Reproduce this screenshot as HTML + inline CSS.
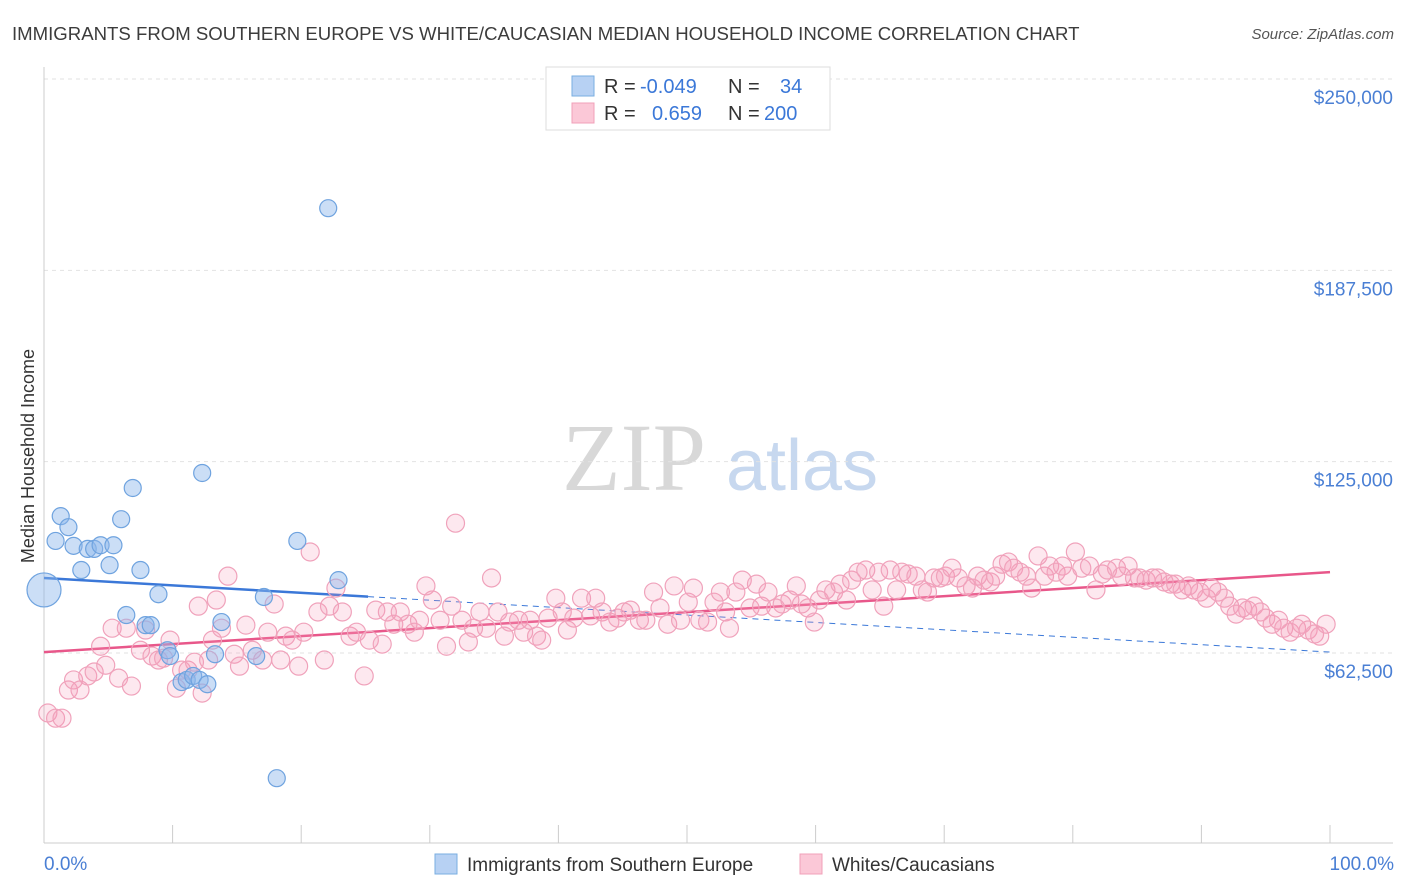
<!DOCTYPE html>
<html><head><meta charset="utf-8">
<style>
body{margin:0;background:#fff;font-family:"Liberation Sans",sans-serif;}
svg{display:block}
</style></head>
<body>
<svg id="chart" width="1406" height="892" xmlns="http://www.w3.org/2000/svg" font-family="Liberation Sans, sans-serif">
<text x="12" y="40" font-size="18.6" fill="#3c3c3c">IMMIGRANTS FROM SOUTHERN EUROPE VS WHITE/CAUCASIAN MEDIAN HOUSEHOLD INCOME CORRELATION CHART</text>
<text x="1394" y="39" font-size="15" fill="#555" font-style="italic" text-anchor="end">Source: ZipAtlas.com</text>
<g>
<text x="634" y="490" font-size="96" fill="#d8d8d8" font-family="Liberation Serif, serif" text-anchor="middle">ZIP</text>
<text x="802" y="490" font-size="72" fill="#c7d8ef" text-anchor="middle">atlas</text>
</g>
<g id="grid"></g>
<g id="axes"></g>
<g id="trends"></g>
<g id="points"></g>
<text transform="translate(34,456) rotate(-90)" font-size="18" fill="#333" text-anchor="middle">Median Household Income</text>
<text x="44" y="870" font-size="19" fill="#4a7fd4">0.0%</text>
<text x="1394" y="870" font-size="19" fill="#4a7fd4" text-anchor="end">100.0%</text>
<g>
<rect x="546" y="67" width="284" height="63" fill="#fff" stroke="#ddd"/>
<rect x="572" y="76" width="22" height="20" fill="#b7d1f3" stroke="#7aaee0"/>
<rect x="572" y="103" width="22" height="20" fill="#fbc8d7" stroke="#f0a0b8"/>
<text x="604" y="93" font-size="20" fill="#333">R = <tspan x="640" fill="#3b78d8">-0.049</tspan><tspan x="728">N = </tspan><tspan x="780" fill="#3b78d8">34</tspan></text>
<text x="604" y="120" font-size="20" fill="#333">R = <tspan x="652" fill="#3b78d8">0.659</tspan><tspan x="728">N = </tspan><tspan x="764" fill="#3b78d8">200</tspan></text>
</g>
<g>
<rect x="435" y="854" width="22" height="20" fill="#b7d1f3" stroke="#7aaee0"/>
<text x="467" y="871" font-size="19" fill="#333">Immigrants from Southern Europe</text>
<rect x="800" y="854" width="22" height="20" fill="#fbc8d7" stroke="#f0a0b8"/>
<text x="832" y="871" font-size="19" fill="#333">Whites/Caucasians</text>
</g>
</svg>
<script>
const yTicks=[62500,125000,187500,250000];
const yTickLabels=["$62,500","$125,000","$187,500","$250,000"];
const xTicks=[0,10,20,30,40,50,60,70,80,90,100];
const blueX=[0,0.9,1.3,1.9,2.3,2.9,3.4,3.9,4.4,5.1,5.4,6.0,6.9,7.5,6.4,7.9,8.3,8.9,9.6,9.8,10.7,11.1,11.6,12.1,12.7,12.3,13.3,13.8,17.1,19.7,22.1,22.9,18.1,16.5];
const blueY=[83.1,99.1,107.2,103.6,97.5,89.6,96.5,96.5,97.7,91.2,97.7,106.2,116.4,89.6,74.9,71.6,71.6,81.7,63.4,61.5,53.0,53.7,55.0,53.7,52.3,121.3,62.1,72.6,80.8,99.1,207.8,86.3,21.6,61.5];
const pinkX=[0.3,0.9,1.4,1.9,2.3,2.8,3.4,3.9,4.4,4.8,5.3,5.8,6.4,6.8,7.5,7.9,8.4,8.9,9.3,9.8,10.3,10.7,11.2,11.7,12.0,12.3,12.8,13.1,13.4,13.8,14.3,14.8,15.2,15.7,16.2,17.0,17.4,17.9,18.4,18.8,19.3,19.8,20.2,20.7,21.3,21.8,22.2,22.7,23.2,23.8,24.3,24.9,25.3,25.8,26.3,26.7,27.2,27.7,28.3,28.8,29.2,29.7,30.2,30.8,31.3,31.7,32.0,32.5,33.0,33.4,33.9,34.4,34.8,35.3,35.8,36.2,36.9,37.3,37.8,38.3,38.7,39.2,39.8,40.3,40.7,41.2,41.8,42.5,42.9,43.4,44.0,44.6,45.1,45.6,46.3,46.8,47.4,47.9,48.5,49.0,49.5,50.1,50.5,51.0,51.6,52.1,52.6,53.0,53.3,53.8,54.3,54.9,55.4,55.8,56.3,56.9,57.4,58.0,58.5,58.9,59.4,59.9,60.3,60.8,61.4,61.9,62.4,62.8,63.3,63.9,64.4,64.9,65.3,65.8,66.3,66.7,67.2,67.8,68.3,68.7,69.2,69.7,70.1,70.6,71.1,71.7,72.2,72.6,73.1,73.6,74.0,74.5,75.0,75.4,75.9,76.4,76.8,77.3,77.8,78.2,78.7,79.2,79.6,80.2,80.7,81.3,81.8,82.3,82.7,83.4,83.8,84.3,84.8,85.2,85.7,86.2,86.6,87.1,87.6,88.0,88.5,89.0,89.4,89.9,90.4,90.8,91.3,91.8,92.2,92.7,93.2,93.6,94.1,94.6,95.0,95.5,96.0,96.4,96.9,97.4,97.8,98.3,98.8,99.2,99.7];
const pinkY=[42.9,41.2,41.2,50.4,53.7,50.4,55.0,56.3,64.7,58.5,70.6,54.3,70.6,51.7,63.4,70.0,61.5,60.2,60.8,66.7,51.0,56.9,56.9,59.5,77.8,49.4,60.2,66.7,79.8,70.6,87.6,62.1,58.2,71.6,63.4,60.2,69.3,78.5,60.2,68.0,66.7,58.2,69.3,95.5,75.9,60.2,77.8,83.7,75.9,68.0,69.3,55.0,66.7,76.5,65.4,75.9,71.9,75.9,71.9,69.3,73.2,84.4,79.8,73.2,64.7,77.8,104.9,73.2,66.1,70.6,75.9,70.6,87.0,75.9,68.0,72.6,73.2,69.3,73.2,68.0,66.7,73.9,80.4,75.9,70.0,73.9,80.4,74.6,80.4,75.9,72.6,73.9,75.9,76.5,73.2,73.2,82.4,77.2,71.9,84.4,73.2,79.1,83.7,73.2,72.6,79.1,82.4,75.9,70.6,82.4,86.3,77.2,85.0,77.8,82.4,77.2,78.5,79.8,84.4,78.5,77.2,72.6,79.8,83.1,82.4,85.0,79.8,86.3,88.9,89.6,83.1,88.9,77.8,89.6,83.1,88.9,88.3,87.6,83.1,82.4,87.0,87.0,87.6,90.2,87.0,84.4,83.7,87.6,86.3,85.7,87.6,91.5,92.2,90.2,88.9,87.6,83.7,94.2,87.6,90.9,88.9,90.9,87.6,95.5,90.2,90.9,83.1,88.3,89.6,90.2,87.6,90.9,87.0,87.0,86.3,87.0,87.0,85.7,85.0,85.0,83.1,84.4,83.1,82.4,80.4,83.7,82.4,80.4,77.8,75.2,77.2,76.5,77.8,75.9,73.9,71.9,73.2,70.6,69.3,70.6,71.9,70.0,68.7,68.0,71.9];
const blueTrendY=[87.0,62.8];
const pinkTrendY=[62.8,88.9];
const blueSolidEnd=25.2;

const NS="http://www.w3.org/2000/svg";
const X0=44,X1=1330,YT=79,YB=843,PR=1393;
function xs(p){return X0+(X1-X0)*p/100;}
function ys(k){return 79+(250-k)/62.5*191.33;}
function mk(tag,attrs,parent){const e=document.createElementNS(NS,tag);for(const k in attrs)e.setAttribute(k,attrs[k]);parent.appendChild(e);return e;}
const grid=document.getElementById('grid'),axes=document.getElementById('axes'),trends=document.getElementById('trends'),pts=document.getElementById('points');
yTicks.forEach((v,i)=>{
 const y=ys(v/1000);
 const l=mk('line',{x1:X0,x2:PR,y1:y,y2:y,stroke:'#e2e2e2','stroke-dasharray':'4,4'},grid);
 
 
 const t=mk('text',{x:PR,y:y+25,'font-size':19,fill:'#4a7fd4','text-anchor':'end'},axes);
 t.textContent=yTickLabels[i];
 
 
});
const ax=mk('line',{x1:X0,x2:X0,y1:67,y2:YB,stroke:'#ccc'},axes);


const bx=mk('line',{x1:X0,x2:PR,y1:YB,y2:YB,stroke:'#ccc'},axes);


xTicks.forEach(p=>{
 const t=mk('line',{x1:xs(p),x2:xs(p),y1:825,y2:YB,stroke:'#ccc'},axes);
 
 
});
pinkX.forEach((x,i)=>{
 const c=mk('circle',{cx:xs(x),cy:ys(pinkY[i]),r:9,fill:'rgba(244,150,180,0.22)',stroke:'#f0a2bb','stroke-width':1.2},pts);
 
 
});
blueX.forEach((x,i)=>{
 const c=mk('circle',{cx:xs(x),cy:ys(blueY[i]),r:i===0?17:8.5,fill:'rgba(140,182,235,0.45)',stroke:'#6fa3df','stroke-width':1.2},pts);
 
 
});
function ty(a,p){return a[0]+(a[1]-a[0])*p/100;}
const bs=mk('line',{x1:xs(0),y1:ys(ty(blueTrendY,0)),x2:xs(blueSolidEnd),y2:ys(ty(blueTrendY,blueSolidEnd)),stroke:'#3b78d8','stroke-width':2.5},trends);


const bd=mk('line',{x1:xs(blueSolidEnd),y1:ys(ty(blueTrendY,blueSolidEnd)),x2:xs(100),y2:ys(ty(blueTrendY,100)),stroke:'#3b78d8','stroke-width':1,'stroke-dasharray':'6,5'},trends);


const pl=mk('line',{x1:xs(0),y1:ys(pinkTrendY[0]),x2:xs(100),y2:ys(pinkTrendY[1]),stroke:'#e8578a','stroke-width':2.5},trends);


</script>
</body></html>
